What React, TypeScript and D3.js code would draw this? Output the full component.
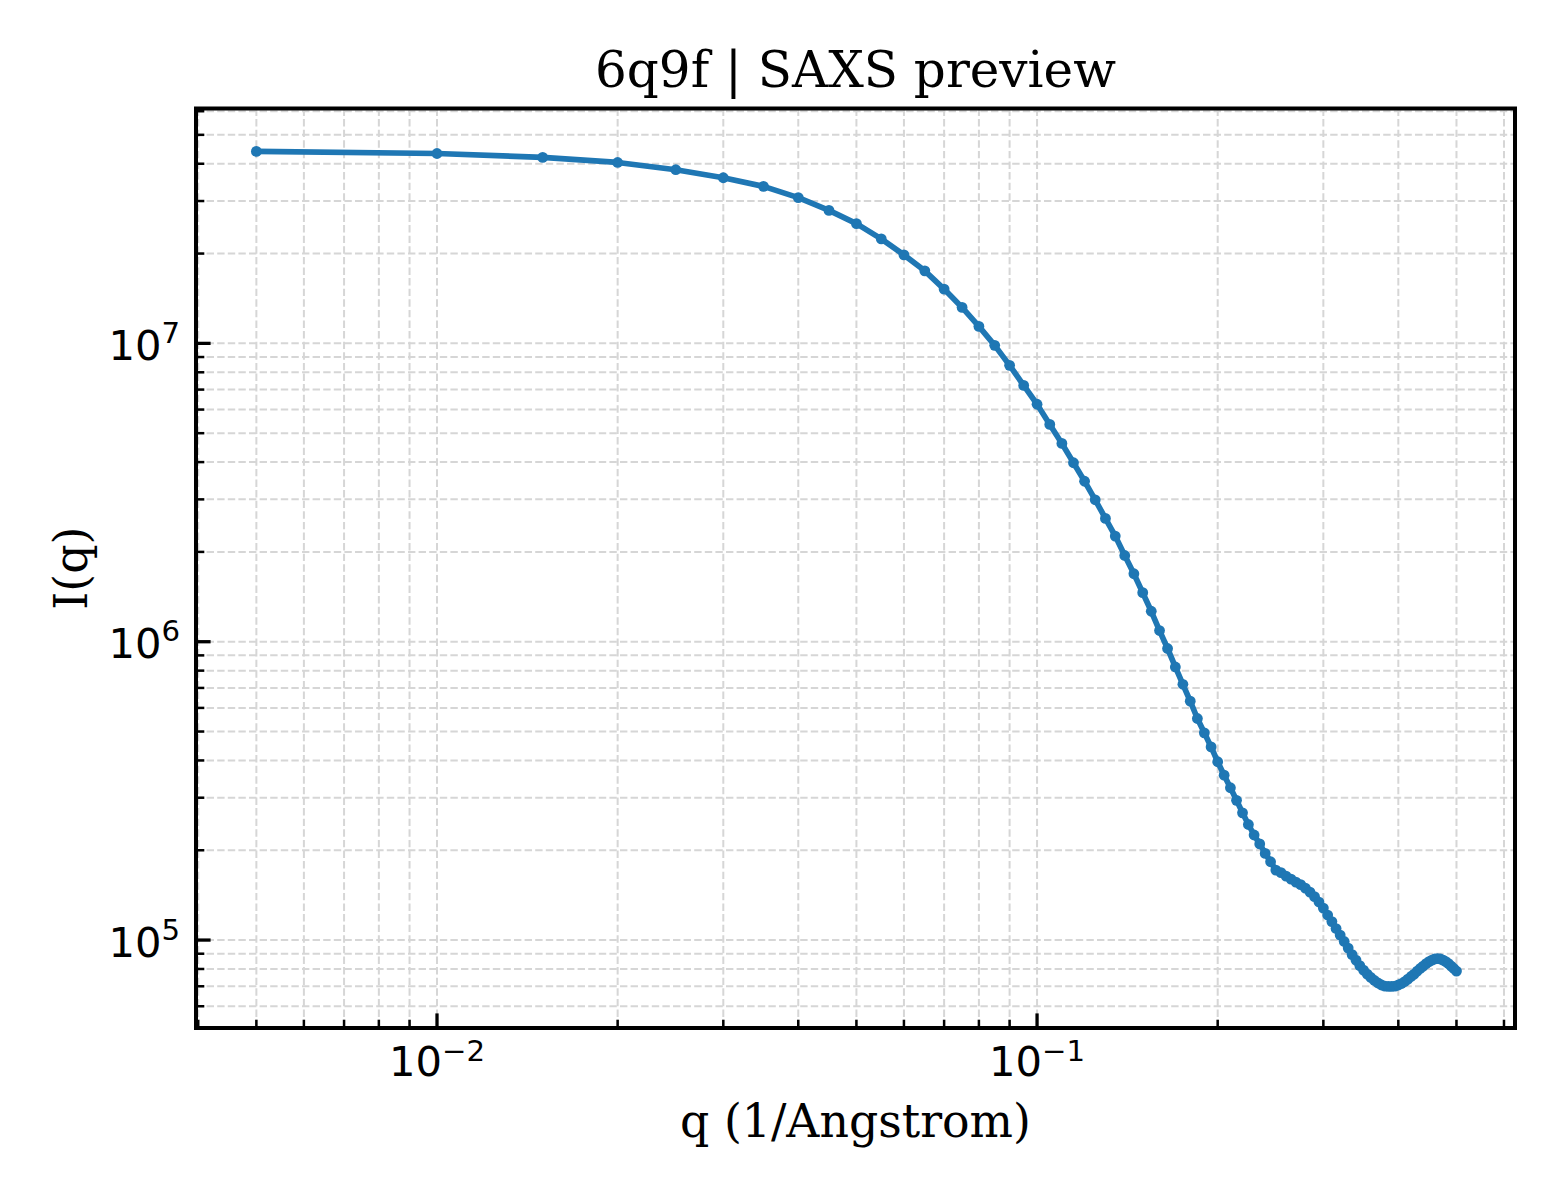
import React from "react";
import * as d3 from "d3";

// scattering vector q (1/Angstrom)
const qValues: number[] = [
  0.005, 0.01, 0.015, 0.02, 0.025, 0.03, 0.035, 0.04, 0.045, 0.05,
  0.055, 0.06, 0.065, 0.07, 0.075, 0.08, 0.085, 0.09, 0.095, 0.1,
  0.105, 0.11, 0.115, 0.12, 0.125, 0.13, 0.135, 0.14, 0.145, 0.15,
  0.155, 0.16, 0.165, 0.17, 0.175, 0.18, 0.185, 0.19, 0.195, 0.2,
  0.205, 0.21, 0.215, 0.22, 0.225, 0.23, 0.235, 0.24, 0.245, 0.25,
  0.255, 0.26, 0.265, 0.27, 0.275, 0.28, 0.285, 0.29, 0.295, 0.3,
  0.305, 0.31, 0.315, 0.32, 0.325, 0.33, 0.335, 0.34, 0.345, 0.35,
  0.355, 0.36, 0.365, 0.37, 0.375, 0.38, 0.385, 0.39, 0.395, 0.4,
  0.405, 0.41, 0.415, 0.42, 0.425, 0.43, 0.435, 0.44, 0.445, 0.45,
  0.455, 0.46, 0.465, 0.47, 0.475, 0.48, 0.485, 0.49, 0.495, 0.5,
];

// intensity I(q)
const intensity: number[] = [
  4.40e7, 4.33e7, 4.20e7, 4.04e7, 3.82e7, 3.59e7, 3.36e7, 3.08e7, 2.79e7, 2.52e7,
  2.24e7, 1.98e7, 1.75e7, 1.52e7, 1.32e7, 1.14e7, 9.85e6, 8.44e6, 7.23e6, 6.25e6,
  5.35e6, 4.62e6, 3.98e6, 3.45e6, 2.99e6, 2.59e6, 2.26e6, 1.945e6, 1.69e6, 1.46e6,
  1.265e6, 1.09e6, 9.49e5, 8.23e5, 7.20e5, 6.32e5, 5.53e5, 4.95e5, 4.44e5, 3.96e5,
  3.57e5, 3.24e5, 2.94e5, 2.67e5, 2.44e5, 2.25e5, 2.10e5, 1.952e5, 1.83e5, 1.716e5,
  1.683e5, 1.638e5, 1.601e5, 1.564e5, 1.534e5, 1.493e5, 1.448e5, 1.399e5, 1.341e5, 1.28e5,
  1.213e5, 1.153e5, 1.093e5, 1.039e5, 9.89e4, 9.40e4, 8.94e4, 8.57e4, 8.21e4, 7.93e4,
  7.69e4, 7.49e4, 7.32e4, 7.18e4, 7.07e4, 7.01e4, 6.99e4, 6.99e4, 7.01e4, 7.07e4,
  7.15e4, 7.26e4, 7.40e4, 7.55e4, 7.69e4, 7.87e4, 8.03e4, 8.18e4, 8.34e4, 8.47e4,
  8.57e4, 8.64e4, 8.67e4, 8.64e4, 8.57e4, 8.47e4, 8.34e4, 8.18e4, 8.03e4, 7.87e4,
];

const xTickExponents = [-2, -1];
const yTickExponents = [5, 6, 7];

const title = "6q9f | SAXS preview";
const xLabel = "q (1/Angstrom)";
const yLabel = "I(q)";

const W = 1560;
const H = 1200;
const margin = { left: 196, right: 1515, top: 108.5, bottom: 1028 };
const blue = "#1f77b4";
const gridColor = "#d6d6d6";

const App: React.FC = () => {
  const x = d3.scaleLog().domain([0.003966, 0.6259]).range([margin.left, margin.right]);
  const y = d3.scaleLog().domain([5.073e4, 6.127e7]).range([margin.bottom, margin.top]);

  const pts = qValues.map((q, i) => ({ q, v: intensity[i] }));
  const line = d3.line<{ q: number; v: number }>()
    .x(d => x(d.q))
    .y(d => y(d.v));

  const isMajor = (v: number) => Math.abs(Math.log10(v) - Math.round(Math.log10(v))) < 1e-9;
  const xTicks = x.ticks();
  const yTicks = y.ticks();

  const minus = (n: number) => (n < 0 ? "\u2212" + Math.abs(n) : String(n));

  return (
    <svg width={W} height={H} style={{ position: "absolute", left: 0, top: 0, background: "#fff" }}>
      {/* grid */}
      <g stroke={gridColor} strokeWidth={2} strokeDasharray="7.4,3.2" fill="none">
        {xTicks.map((t, i) => (
          <line key={"gx" + i} x1={x(t)} x2={x(t)} y1={margin.top} y2={margin.bottom} />
        ))}
        {yTicks.map((t, i) => (
          <line key={"gy" + i} x1={margin.left} x2={margin.right} y1={y(t)} y2={y(t)} />
        ))}
      </g>

      {/* data */}
      <path d={line(pts) || ""} fill="none" stroke={blue} strokeWidth={5.7} strokeLinejoin="round" />
      <g fill={blue}>
        {pts.map((d, i) => (
          <circle key={"p" + i} cx={x(d.q)} cy={y(d.v)} r={5.4} />
        ))}
      </g>

      {/* ticks (inward, left and bottom) */}
      <g stroke="#000">
        {xTicks.map((t, i) => {
          const major = isMajor(t);
          return (
            <line key={"tx" + i} x1={x(t)} x2={x(t)} y1={margin.bottom}
              y2={margin.bottom - (major ? 14.6 : 8.3)} strokeWidth={major ? 3.3 : 2.5} />
          );
        })}
        {yTicks.map((t, i) => {
          const major = isMajor(t);
          return (
            <line key={"ty" + i} y1={y(t)} y2={y(t)} x1={margin.left}
              x2={margin.left + (major ? 14.6 : 8.3)} strokeWidth={major ? 3.3 : 2.5} />
          );
        })}
      </g>

      {/* spines */}
      <rect x={margin.left} y={margin.top} width={margin.right - margin.left}
        height={margin.bottom - margin.top} fill="none" stroke="#000" strokeWidth={4} />

      {/* tick labels */}
      <g fontFamily="DejaVu Sans" fontSize={41.7} fill="#000">
        {xTickExponents.map(e => (
          <text key={"lx" + e} x={x(Math.pow(10, e))} y={margin.bottom + 48} textAnchor="middle">
            10<tspan fontSize={29.2} dy={-15.5}>{minus(e)}</tspan>
          </text>
        ))}
        {yTickExponents.map(e => (
          <text key={"ly" + e} x={180} y={y(Math.pow(10, e)) + 16.5} textAnchor="end">
            10<tspan fontSize={29.2} dy={-17}>{minus(e)}</tspan>
          </text>
        ))}
      </g>

      {/* title and axis labels */}
      <g fontFamily="DejaVu Serif" fill="#000">
        <text x={(margin.left + margin.right) / 2} y={87} fontSize={50} textAnchor="middle">{title}</text>
        <text x={(margin.left + margin.right) / 2} y={1137} fontSize={45.8} textAnchor="middle">{xLabel}</text>
        <text transform={`translate(87,${(margin.top + margin.bottom) / 2}) rotate(-90)`}
          fontSize={45.8} textAnchor="middle">{yLabel}</text>
      </g>
    </svg>
  );
};

export default App;
